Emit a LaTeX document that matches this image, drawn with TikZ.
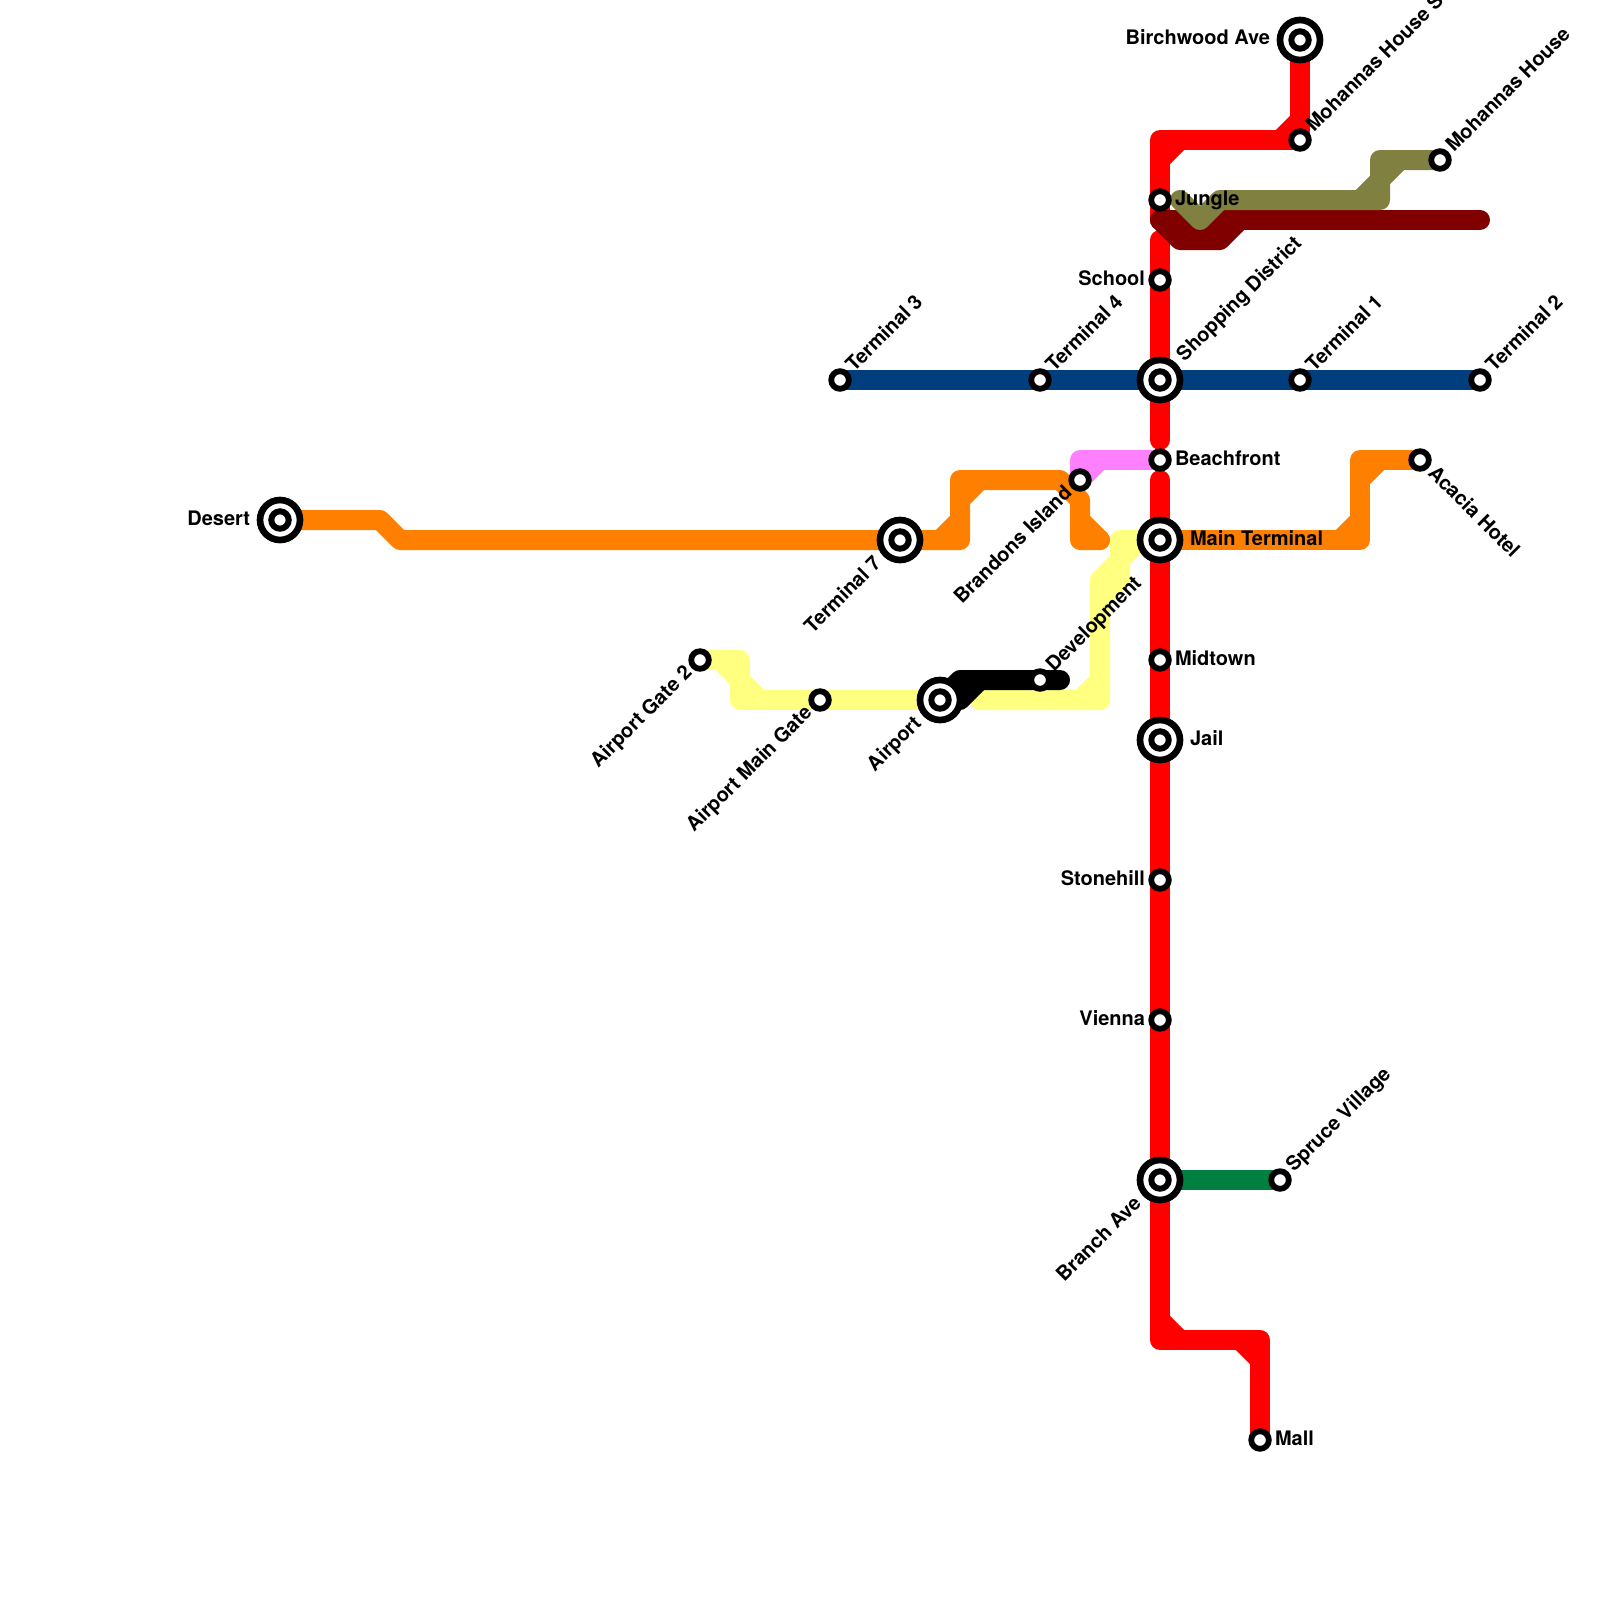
\documentclass[tikz,border=0pt]{standalone}
\usepackage{fontspec}
\setmainfont{TeX Gyre Heros}
\definecolor{lred}{HTML}{FF0000}
\definecolor{lorange}{HTML}{FF8000}
\definecolor{lblue}{HTML}{003E7E}
\definecolor{lyellow}{HTML}{FFFF80}
\definecolor{lolive}{HTML}{808040}
\definecolor{ldark}{HTML}{800000}
\definecolor{lpink}{HTML}{FF80FF}
\definecolor{lgreen}{HTML}{008040}
\tikzset{
  x=1pt,y=-1pt,
  rail/.style={line width=20pt,line cap=round,line join=round},
  lab/.style={font=\bfseries\fontsize{20}{22}\selectfont,inner sep=0pt,outer sep=0pt,text=black},
  R/.style={lab,anchor=base west},
  L/.style={lab,anchor=base east},
  UR/.style={lab,anchor=base west,rotate=45},
  DL/.style={lab,anchor=base east,rotate=45},
  DR/.style={lab,anchor=base west,rotate=-45},
}
\newcommand{\smallstn}[2]{%
  \node[circle,draw=black,line width=5.8pt,fill=white,minimum size=17.6pt,inner sep=0pt,outer sep=0pt] (#1) at #2 {};}
\newcommand{\bigstn}[2]{%
  \node[circle,draw=black,line width=6.67pt,fill=white,minimum size=40pt,inner sep=0pt,outer sep=0pt] (#1) at #2 {};
  \node[circle,draw=black,line width=6pt,fill=white,minimum size=17.4pt,inner sep=0pt,outer sep=0pt] at #2 {};}
\begin{document}
\begin{tikzpicture}
\useasboundingbox (0,0) rectangle (1600,1600);
\fill[white] (0,0) rectangle (1600,1600);
\coordinate (cbirch) at (1300,40);
\coordinate (cmohs) at (1300,140);
\coordinate (cjungle) at (1160,200);
\coordinate (cschool) at (1160,280);
\coordinate (cshop) at (1160,380);
\coordinate (cbeach) at (1160,460);
\coordinate (cmainterm) at (1160,540);
\coordinate (cmidtown) at (1160,660);
\coordinate (cjail) at (1160,740);
\coordinate (cstone) at (1160,880);
\coordinate (cvienna) at (1160,1020);
\coordinate (cbranch) at (1160,1180);
\coordinate (cmall) at (1260,1440);
\coordinate (cta) at (840,380);
\coordinate (ctb) at (1040,380);
\coordinate (ctc) at (1300,380);
\coordinate (ctd) at (1480,380);
\coordinate (cte) at (900,540);
\coordinate (cbrandons) at (1080,480);
\coordinate (cacacia) at (1420,460);
\coordinate (cmohh) at (1440,160);
\coordinate (cgate) at (700,660);
\coordinate (cmaingate) at (820,700);
\coordinate (cairport) at (940,700);
\coordinate (cdevel) at (1040,680);
\coordinate (cspruce) at (1280,1180);
\coordinate (cdesert) at (280,520);
% blue
\draw[rail,lblue] (cta) -- (ctd);
% green
\draw[rail,lgreen] (cbranch) -- (cspruce);
% yellow
\draw[rail,lyellow] (cgate) -- (740,660) -- (740,700) -- (cairport);
\draw[rail,lyellow] (720,660) -- (740,680) -- (760,700);
\draw[rail,lyellow] (980,700) -- (1100,700) -- (1100,580) -- (1120,560) -- (1120,540) -- (cmainterm);
\draw[rail,lyellow] (1080,700) -- (1100,680);
\draw[rail,lyellow] (1120,560) -- (1140,540);
\draw[rail,lyellow] (1120,560) -- (1120,580) -- (1100,600);
% orange
\draw[rail,lorange] (cdesert) -- (380,520) -- (400,540) -- (960,540) -- (960,480) -- (1060,480) -- (1080,500) -- (1080,540) -- (1100,540);
\draw[rail,lorange] (940,540) -- (960,520);
\draw[rail,lorange] (960,500) -- (980,480);
\draw[rail,lorange] (1080,520) -- (1100,540);
\draw[rail,lorange] (cmainterm) -- (1360,540) -- (1360,460) -- (cacacia);
\draw[rail,lorange] (1340,540) -- (1360,520);
\draw[rail,lorange] (1360,480) -- (1380,460);
% pink
\draw[rail,lpink] (cbeach) -- (1080,460) -- (cbrandons);
\draw[rail,lpink] (cbrandons) -- (1100,460);
% black
\draw[rail,black] (cairport) -- (960,680) -- (1060,680);
\draw[rail,black] (cairport) -- (960,700) -- (980,680);
% red
\draw[rail,lred] (cbirch) -- (cmohs) -- (1160,140) -- (1160,220);
\draw[rail,lred] (1300,120) -- (1280,140);
\draw[rail,lred] (1160,160) -- (1180,140);
\draw[rail,lred] (1160,240) -- (1160,440);
\draw[rail,lred] (1160,480) -- (1160,1340) -- (1260,1340) -- (cmall);
\draw[rail,lred] (1160,1320) -- (1180,1340);
\draw[rail,lred] (1240,1340) -- (1260,1360);
% dark red
\draw[rail,ldark] (1160,220) -- (1480,220);
\draw[rail,ldark] (1160,220) -- (1180,240) -- (1220,240) -- (1240,220);
% olive
\draw[rail,lolive] (1180,200) -- (1200,220) -- (1220,200) -- (1380,200) -- (1380,160) -- (cmohh);
\draw[rail,lolive] (1360,200) -- (1380,180) -- (1400,160);
% stations
\bigstn{birch}{(cbirch)}
\smallstn{mohs}{(cmohs)}
\smallstn{jungle}{(cjungle)}
\smallstn{school}{(cschool)}
\bigstn{shop}{(cshop)}
\smallstn{beach}{(cbeach)}
\bigstn{mainterm}{(cmainterm)}
\smallstn{midtown}{(cmidtown)}
\bigstn{jail}{(cjail)}
\smallstn{stone}{(cstone)}
\smallstn{vienna}{(cvienna)}
\bigstn{branch}{(cbranch)}
\smallstn{mall}{(cmall)}
\smallstn{ta}{(cta)}
\smallstn{tb}{(ctb)}
\smallstn{tc}{(ctc)}
\smallstn{td}{(ctd)}
\bigstn{te}{(cte)}
\smallstn{brandons}{(cbrandons)}
\smallstn{acacia}{(cacacia)}
\smallstn{mohh}{(cmohh)}
\smallstn{gate}{(cgate)}
\smallstn{maingate}{(cmaingate)}
\bigstn{airport}{(cairport)}
\smallstn{devel}{(cdevel)}
\smallstn{spruce}{(cspruce)}
\bigstn{desert}{(cdesert)}
% labels
\path (cbirch) ++(-30,5) node[L] {Birchwood Ave};
\path (cdesert) ++(-30,5) node[L] {Desert};
\path (cschool) ++(-15,5) node[L] {School};
\path (cstone) ++(-15,5) node[L] {Stonehill};
\path (cvienna) ++(-15,5) node[L] {Vienna};
\path (cjungle) ++(15,5) node[R] {Jungle};
\path (cbeach) ++(15,5) node[R] {Beachfront};
\path (cmidtown) ++(15,5) node[R] {Midtown};
\path (cmall) ++(15,5) node[R] {Mall};
\path (cmainterm) ++(30,5) node[R] {Main Terminal};
\path (cjail) ++(30,5) node[R] {Jail};
\path (cmohs) ++(14.1,-7.1) node[UR] {Mohannas House Station};
\path (cmohh) ++(14.1,-7.1) node[UR] {Mohannas House};
\path (cta) ++(14.1,-7.1) node[UR] {Terminal 3};
\path (ctb) ++(14.1,-7.1) node[UR] {Terminal 4};
\path (ctc) ++(14.1,-7.1) node[UR] {Terminal 1};
\path (ctd) ++(14.1,-7.1) node[UR] {Terminal 2};
\path (cdevel) ++(14.1,-7.1) node[UR] {Development};
\path (cspruce) ++(14.1,-7.1) node[UR] {Spruce Village};
\path (cshop) ++(24.7,-17.7) node[UR] {Shopping District};
\path (cbrandons) ++(-7.1,14.1) node[DL] {Brandons Island};
\path (cgate) ++(-7.1,14.1) node[DL] {Airport Gate 2};
\path (cmaingate) ++(-7.1,14.1) node[DL] {Airport Main Gate};
\path (cte) ++(-17.7,24.7) node[DL] {Terminal 7};
\path (cairport) ++(-17.7,24.7) node[DL] {Airport};
\path (cbranch) ++(-17.7,24.7) node[DL] {Branch Ave};
\path (cacacia) ++(7.1,14.1) node[DR] {Acacia Hotel};
\end{tikzpicture}
\end{document}
